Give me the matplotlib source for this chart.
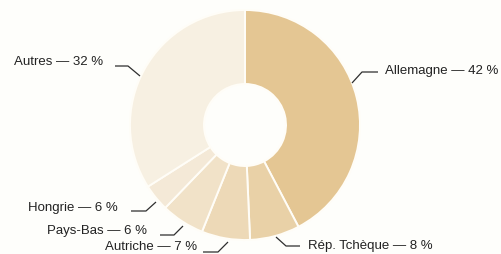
import matplotlib

matplotlib.use("Agg")
import matplotlib.pyplot as plt

# slice sizes as drawn, labels as printed
countries = ["Allemagne", "Rép. Tchèque", "Autriche", "Pays-Bas", "Hongrie", "Autres"]
shares = [42.3, 7.0, 6.8, 6.1, 3.8, 34.0]
label_pct = [42, 8, 7, 6, 6, 32]
colors = ["#E4C693", "#E9D1A7", "#EDD9B7", "#F1E2C8", "#F4E9D7", "#F7F0E2"]

W, H = 501, 254
BG = "#FEFEFB"
CX, CY, R, R_IN = 245, 125, 115, 41

# leader lines in pixel coords (start on ring, elbow, end) + text anchor
leaders = {
    "Allemagne": [(352, 83), (362, 72), (378, 72)],
    "Rép. Tchèque": [(276, 237), (286, 246), (300, 246)],
    "Autriche": [(228, 242), (218, 252), (203, 252)],
    "Pays-Bas": [(183, 226), (174, 235), (160, 235)],
    "Hongrie": [(156, 202), (146, 211), (131, 211)],
    "Autres": [(140, 76), (128, 66), (115, 66)],
}
text_pos = {
    "Allemagne": (385, 71, "left"),
    "Rép. Tchèque": (308, 246, "left"),
    "Autriche": (197, 247, "right"),
    "Pays-Bas": (147, 231, "right"),
    "Hongrie": (118, 208, "right"),
    "Autres": (103, 62, "right"),
}

plt.rcParams["font.family"] = ["Liberation Sans", "DejaVu Sans"]

fig = plt.figure(figsize=(W / 100, H / 100), dpi=100, facecolor=BG)
ax = fig.add_axes([0, 0, 1, 1])
ax.set_facecolor(BG)

ax.pie(
    shares,
    colors=colors,
    startangle=90,
    counterclock=False,
    center=(CX, H - CY),
    radius=R,
    frame=True,
    wedgeprops=dict(width=R - R_IN, edgecolor="#FFFDF7", linewidth=1.4),
)
ax.set_xlim(0, W)
ax.set_ylim(0, H)
ax.set_aspect("equal")
ax.axis("off")

for name, pct in zip(countries, label_pct):
    pts = leaders[name]
    ax.plot([p[0] for p in pts], [H - p[1] for p in pts], color="#2e2e2e", lw=0.9,
            solid_capstyle="butt")
    tx, ty, ha = text_pos[name]
    ax.text(tx, H - ty, f"{name} — {pct} %", ha=ha, va="center",
            fontsize=9.5, color="#222222")

fig.savefig("out.png", dpi=100, facecolor=BG)
